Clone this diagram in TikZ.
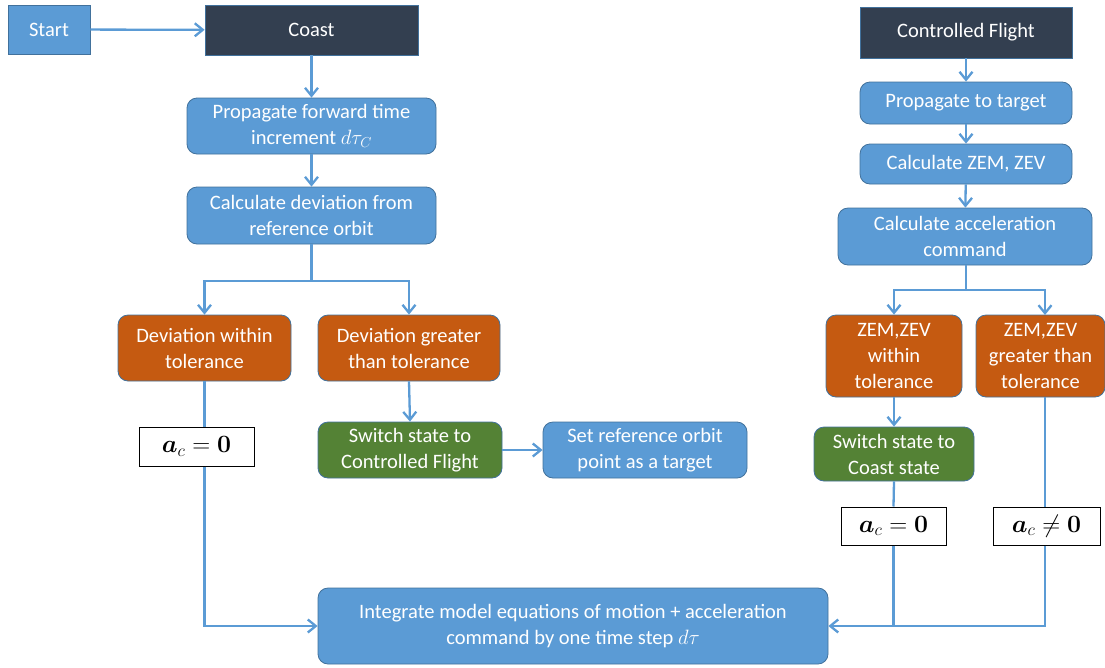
\documentclass[tikz,border=0pt]{standalone}
\usepackage{amsmath}
\usepackage{bm}
\usepackage[no-math]{fontspec}
\setmainfont{Carlito}
\usetikzlibrary{arrows.meta}

\definecolor{boxblue}{HTML}{5B9BD5}
\definecolor{boxdark}{HTML}{333F50}
\definecolor{boxorange}{HTML}{C55A11}
\definecolor{boxgreen}{HTML}{548235}
\definecolor{boxedge}{HTML}{41719C}

\tikzset{
  flow/.style={draw=boxedge,line width=0.8pt,text=white,align=center,inner sep=0pt,
    font=\fontsize{20.5}{26}\selectfont},
  stepblue/.style={flow,fill=boxblue,rounded corners=10pt},
  statebox/.style={flow,fill=boxdark},
  testbox/.style={flow,fill=boxorange,rounded corners=10pt},
  switchbox/.style={flow,fill=boxgreen,rounded corners=10pt},
  accbox/.style={draw=black,line width=1pt,fill=white,inner sep=0pt,
    font=\fontsize{24}{28}\selectfont},
  link/.style={draw=boxblue,line width=2.3pt},
  arr/.style={link,-{Straight Barb[length=8pt,width=13pt,line width=2.3pt]}}
}

\begin{document}
\begin{tikzpicture}[x=1pt,y=-1pt]

\useasboundingbox (0,0) rectangle (1105,667);

\node[flow,fill=boxblue,minimum width=82pt,minimum height=49pt] (start) at (49,29.5) {Start};
\node[statebox,minimum width=213pt,minimum height=50pt] (coast) at (311.5,30) {Coast};
\node[stepblue,minimum width=249pt,minimum height=56pt] (prop) at (311.5,126) {Propagate forward time\\increment $d\tau_C$};
\node[stepblue,minimum width=249pt,minimum height=57pt] (calcdev) at (311.5,215.5) {Calculate deviation from\\reference orbit};
\node[testbox,minimum width=173pt,minimum height=66pt] (devin) at (204.5,348) {Deviation within\\tolerance};
\node[testbox,minimum width=182pt,minimum height=66pt] (devgt) at (409,348) {Deviation greater\\than tolerance};
\node[accbox,minimum width=115pt,minimum height=39pt] (acone) at (196.5,446.5) {$\bm{a}_c=\bm{0}$};
\node[switchbox,minimum width=184pt,minimum height=56pt] (swcf) at (410,450) {Switch state to\\Controlled Flight};
\node[stepblue,minimum width=204pt,minimum height=56pt] (setref) at (645,450) {Set reference orbit\\point as a target};
\node[stepblue,minimum width=510pt,minimum height=76pt] (integ) at (573,626) {Integrate model equations of motion + acceleration\\command by one time step $d\tau$};

\node[statebox,minimum width=212pt,minimum height=51pt] (cf) at (966,32.5) {Controlled Flight};
\node[stepblue,minimum width=212pt,minimum height=42pt] (proptgt) at (966,103) {Propagate to target};
\node[stepblue,minimum width=212pt,minimum height=40pt] (calczem) at (966,164) {Calculate ZEM, ZEV};
\node[stepblue,minimum width=254pt,minimum height=57pt] (calcacc) at (965,236.5) {Calculate acceleration\\command};
\node[testbox,minimum width=136pt,minimum height=82pt] (zemin) at (894,356) {ZEM,ZEV\\within\\tolerance};
\node[testbox,minimum width=129pt,minimum height=82pt] (zemgt) at (1040.5,356) {ZEM,ZEV\\greater than\\tolerance};
\node[switchbox,minimum width=160pt,minimum height=54pt] (swcs) at (894,454) {Switch state to\\Coast state};
\node[accbox,minimum width=105pt,minimum height=38pt] (actwo) at (893.5,526) {$\bm{a}_c=\bm{0}$};
\node[accbox,minimum width=107pt,minimum height=38pt] (acthree) at (1046.5,526) {$\bm{a}_c\neq\bm{0}$};

\coordinate (splitleft) at (311.5,281);
\coordinate (splitright) at (966,290);
\coordinate (zemgttop) at (1045,315);

\draw[arr] (start) -- (coast);
\draw[arr] (coast) -- (prop);
\draw[arr] (prop) -- (calcdev);
\draw[link] (calcdev.south) -- (splitleft);
\draw[arr] (splitleft) -| (devin.north);
\draw[arr] (splitleft) -| (devgt.north);
\draw[arr] (devgt.south) -- (swcf.north);
\draw[arr] (swcf) -- (setref);
\draw[link] (devin.south) -- (devin.south |- acone.north);
\draw[arr] (devin.south |- acone.south) -- (devin.south |- integ.west) -- (integ.west);

\draw[arr] (cf) -- (proptgt);
\draw[arr] (proptgt) -- (calczem);
\draw[arr] (calczem) -- (calcacc);
\draw[link] (calcacc.south -| splitright) -- (splitright);
\draw[arr] (splitright) -| (zemin.north);
\draw[arr] (splitright) -| (zemgttop);
\draw[arr] (zemin) -- (swcs);
\draw[link] (swcs.south) -- (actwo.north);
\draw[link] (zemgttop |- zemgt.south) -- (zemgttop |- acthree.north);
\draw[link] (actwo.south) -- (actwo.south |- integ.east);
\draw[arr] (zemgttop |- acthree.south) -- (zemgttop |- integ.east) -- (integ.east);

\end{tikzpicture}
\end{document}
